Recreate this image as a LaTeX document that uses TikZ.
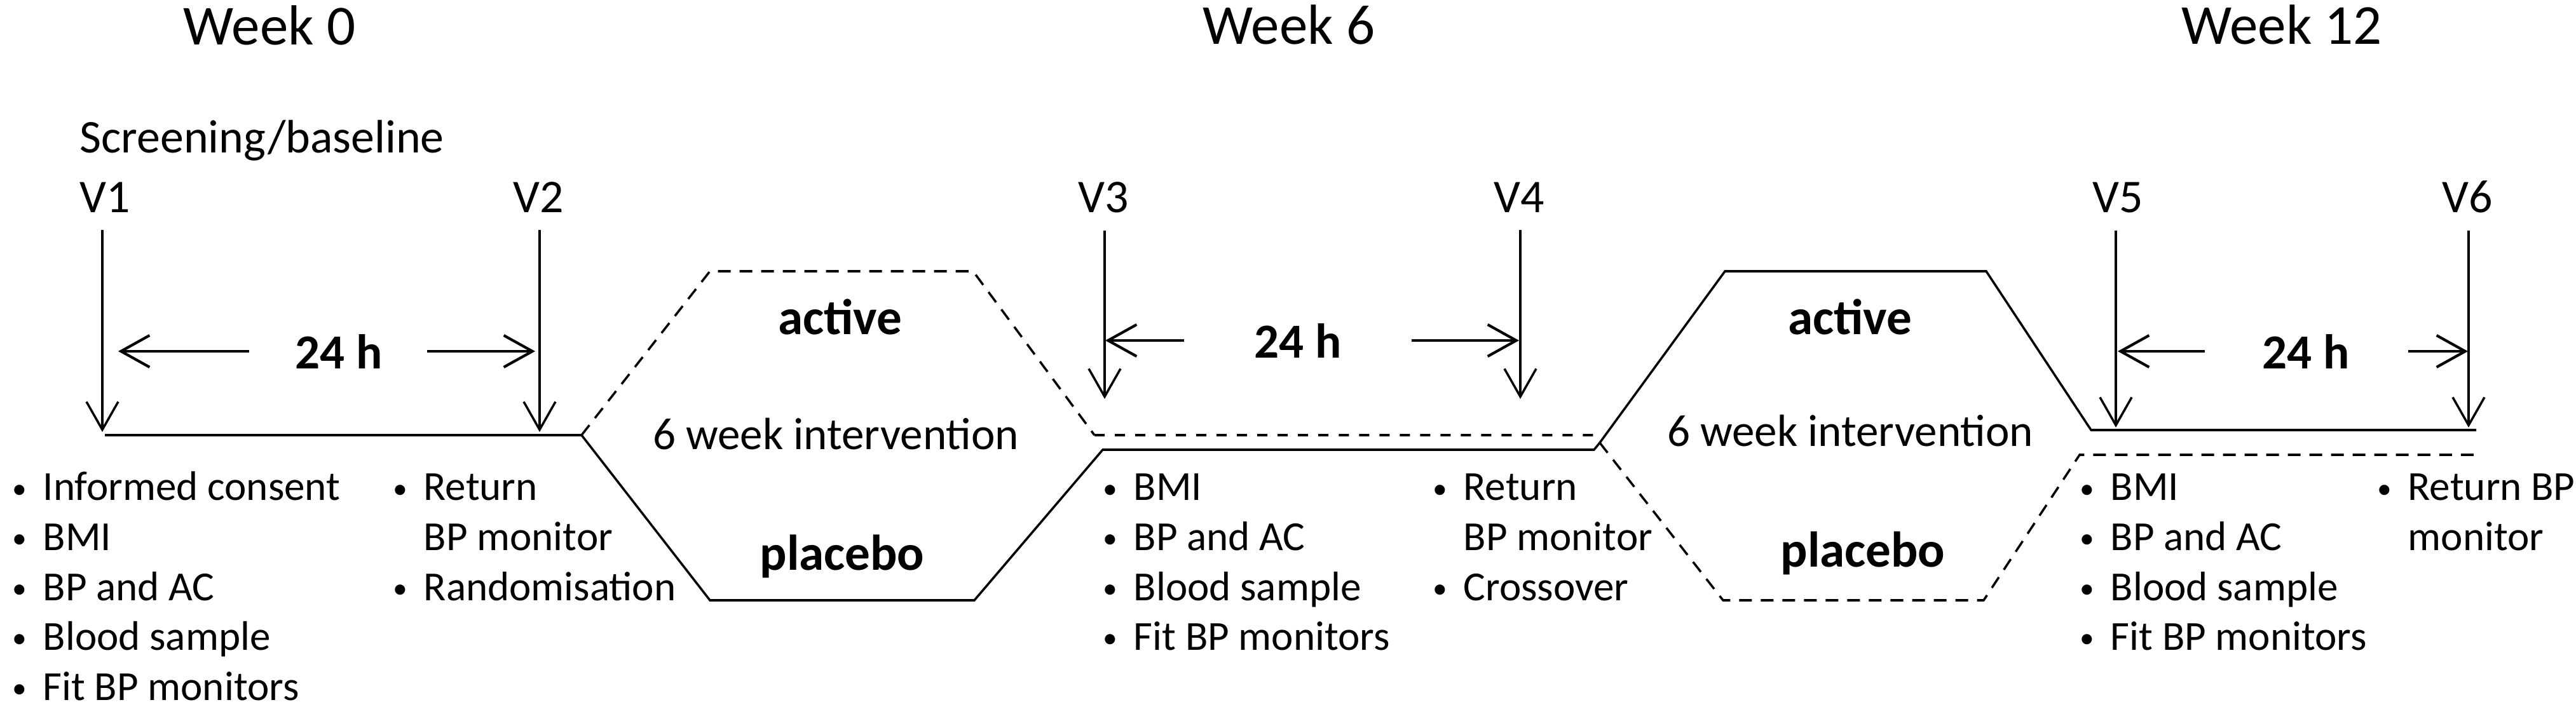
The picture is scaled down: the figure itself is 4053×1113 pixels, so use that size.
\documentclass[tikz,border=0pt]{standalone}
\usepackage{graphicx}
\usepackage{fontspec}
\setmainfont{Carlito}
\usetikzlibrary{arrows.meta}

\newcommand\bul{\makebox[0.53cm][l]{\hspace*{0.05cm}\raisebox{0.06em}{\scalebox{0.7}{•}}}}
\newcommand\nobul{\hspace*{0.53cm}}

\begin{document}
\begin{tikzpicture}[x=0.01cm, y=-0.01cm,
	thinline/.style={line width=1pt},
	thickline/.style={line width=1.2pt},
	dashline/.style={dash pattern=on 0.2cm off 0.14cm},
	shortdash/.style={dash pattern=on 0.16cm off 0.16cm},
	varrow/.style={line width=1pt, -{Straight Barb[length=0.44cm, width=0.5cm]}},
	harrow/.style={line width=1.2pt, -{Straight Barb[length=0.45cm, width=0.5cm]}},
	weeklabel/.style={inner sep=0pt, anchor=base, font=\fontsize{25.3}{30}\selectfont},
	visitlabel/.style={inner sep=0pt, outer ysep=0.27cm, anchor=base, font=\fontsize{21}{25}\selectfont},
	phaselabel/.style={inner sep=0pt, anchor=base, font=\fontsize{20.2}{24}\selectfont},
	armlabel/.style={inner sep=0pt, anchor=base, font=\bfseries\fontsize{22.5}{27}\selectfont},
	hourlabel/.style={inner sep=0pt, font=\bfseries\fontsize{21.9}{26}\selectfont},
	itemlist/.style={inner sep=0pt, anchor=base west, font=\fontsize{18.5}{22.33}\selectfont}]
	
	\useasboundingbox (0,0) rectangle (4053,1113);
	
	% ------------------------------------------------------------
	% Week headings
	% ------------------------------------------------------------
	
	\node[weeklabel] (wk0) at (424,71) {Week 0};
	\node[weeklabel] (wk6) at (2028,70) {Week 6};
	\node[weeklabel] (wk12) at (3590,70) {Week 12};
	
	\node[visitlabel, anchor=base west] (screen) at (125,241) {Screening/baseline};
	
	% ------------------------------------------------------------
	% Visits
	% ------------------------------------------------------------
	
	\node[visitlabel] (lv1) at (165,335) {V1};
	\node[visitlabel] (lv2) at (847,335) {V2};
	\node[visitlabel] (lv3) at (1736,335) {V3};
	\node[visitlabel] (lv4) at (2390,335) {V4};
	\node[visitlabel] (lv5) at (3332,335) {V5};
	\node[visitlabel] (lv6) at (3882,335) {V6};
	
	\coordinate (v1) at (161,680);
	\coordinate (v2) at (849,680);
	\coordinate (v3) at (1738,628);
	\coordinate (v4) at (2392,628);
	\coordinate (v5) at (3329,673);
	\coordinate (v6) at (3884,673);
	
	\foreach \v in {1,...,6}
	\draw[varrow] (lv\v.south -| v\v) -- (v\v);
	
	% ------------------------------------------------------------
	% 24 h recordings
	% ------------------------------------------------------------
	
	\node[hourlabel] (h1) at (533,553) {24 h};
	\node[hourlabel] (h2) at (2042,536) {24 h};
	\node[hourlabel] (h3) at (3628,553) {24 h};
	
	\coordinate (h1l) at (186,553);
	\coordinate (h1r) at (842,553);
	\coordinate (h2l) at (1739,536);
	\coordinate (h2r) at (2390,536);
	\coordinate (h3l) at (3332,553);
	\coordinate (h3r) at (3883,553);
	
	\draw[harrow, shorten <=0.72cm] (h1) -- (h1l);
	\draw[harrow, shorten <=0.70cm] (h1) -- (h1r);
	\draw[harrow, shorten <=1.1cm] (h2) -- (h2l);
	\draw[harrow, shorten <=1.1cm] (h2) -- (h2r);
	\draw[harrow, shorten <=0.9cm] (h3) -- (h3l);
	\draw[harrow, shorten <=0.92cm] (h3) -- (h3r);
	
	% ------------------------------------------------------------
	% Arms
	% ------------------------------------------------------------
	
	\coordinate (j1) at (915,685);
	\coordinate (j2) at (2517,697);
	
	\draw[thickline] (165,685) -- (j1);
	
	% first period: active dashed, placebo solid
	\draw[thinline, dashline] (j1) -- (1117,427) -- (1531,427) -- (1722,685);
	\draw[thinline, shortdash] (1722,685) -- (2508,685) -- (j2);
	\draw[thinline] (j1) -- (1117,945) -- (1533,945) -- (1735,708) -- (2508,708) -- (j2);
	
	% second period: active solid, placebo dashed
	\draw[thinline] (j2) -- (2714,427) -- (3125,427) -- (3290,677) -- (3896,677);
	\draw[thinline, dashline] (j2) -- (2711,945) -- (3121,945) -- (3272,716) -- (3896,716);
	
	\node[armlabel] (act1) at (1322,527) {active};
	\node[phaselabel] (int1) at (1315,708) {6 week intervention};
	\node[armlabel] (pla1) at (1325,898) {placebo};
	
	\node[armlabel] (act2) at (2911,527) {active};
	\node[phaselabel] (int2) at (2911,703) {6 week intervention};
	\node[armlabel] (pla2) at (2931,893) {placebo};
	
	% ------------------------------------------------------------
	% Procedures
	% ------------------------------------------------------------
	
	\node[itemlist] (p1) at (14,788)
	{\begin{tabular}[t]{@{}l@{}}\bul Informed consent\\ \bul BMI\\ \bul BP and AC\\ \bul Blood sample\\ \bul Fit BP monitors\end{tabular}};
	
	\node[itemlist] (p2) at (613,788)
	{\begin{tabular}[t]{@{}l@{}}\bul Return\\ \nobul BP monitor\\ \bul Randomisation\end{tabular}};
	
	\node[itemlist] (p3) at (1730,788)
	{\begin{tabular}[t]{@{}l@{}}\bul BMI\\ \bul BP and AC\\ \bul Blood sample\\ \bul Fit BP monitors\end{tabular}};
	
	\node[itemlist] (p4) at (2249,788)
	{\begin{tabular}[t]{@{}l@{}}\bul Return\\ \nobul BP monitor\\ \bul Crossover\end{tabular}};
	
	\node[itemlist] (p5) at (3267,788)
	{\begin{tabular}[t]{@{}l@{}}\bul BMI\\ \bul BP and AC\\ \bul Blood sample\\ \bul Fit BP monitors\end{tabular}};
	
	\node[itemlist] (p6) at (3735,788)
	{\begin{tabular}[t]{@{}l@{}}\bul Return BP\\ \nobul monitor\end{tabular}};
\end{tikzpicture}
\end{document}
